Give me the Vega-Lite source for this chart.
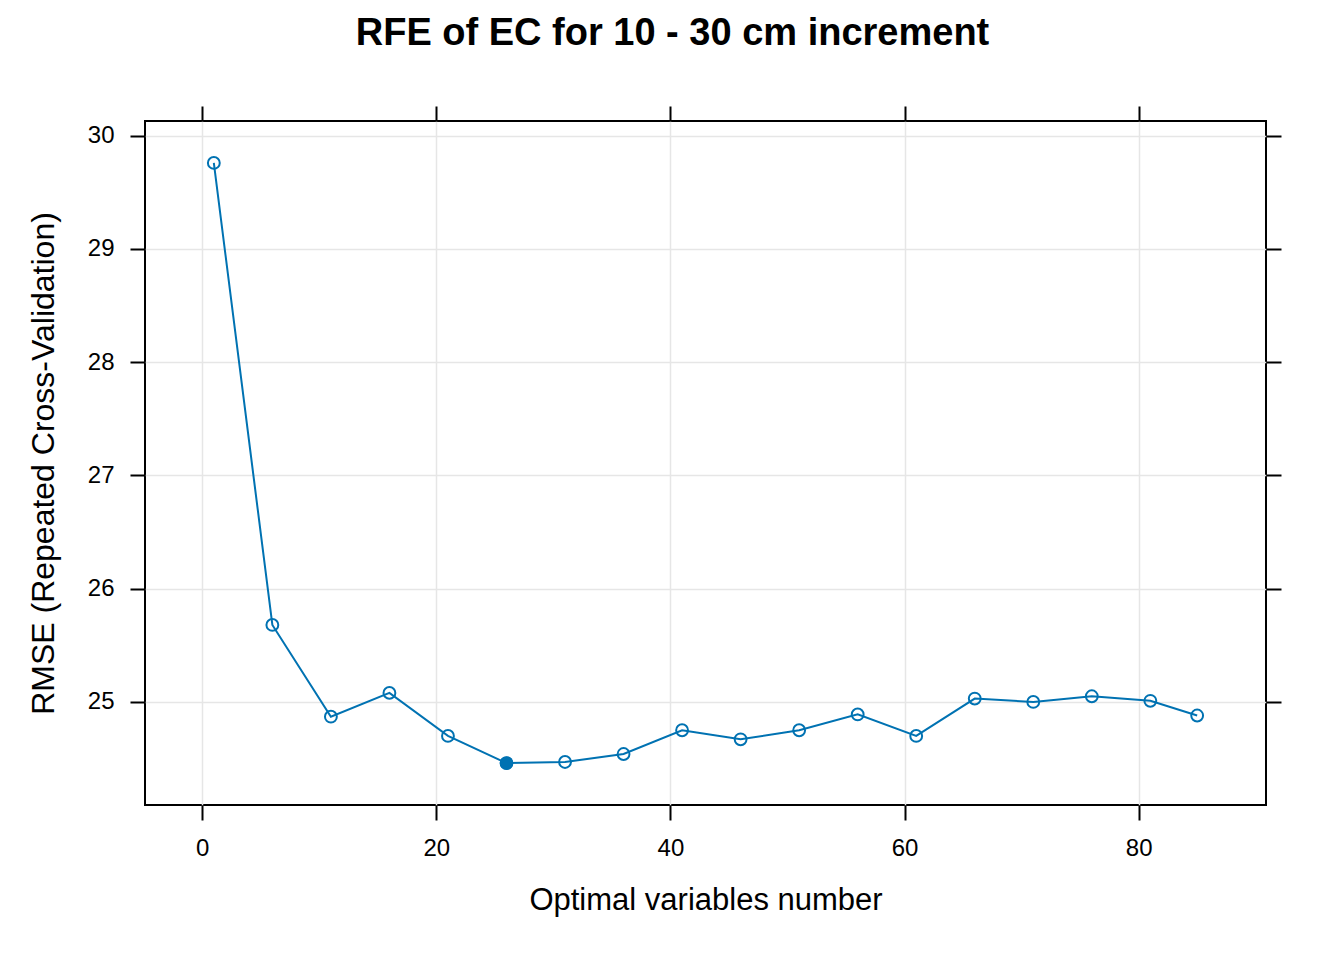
{
  "$schema": "https://vega.github.io/schema/vega-lite/v6.json",
  "autosize": {"type": "none"},
  "width": 1121,
  "height": 684,
  "padding": {"left": 145, "top": 121, "right": 78, "bottom": 155},
  "background": "white",
  "title": {
    "text": "RFE of EC for 10 - 30 cm increment",
    "anchor": "middle",
    "dx": -33,
    "fontSize": 38,
    "font": "Liberation Sans",
    "fontWeight": "bold",
    "color": "black",
    "offset": 52
  },
  "config": {
    "view": {"stroke": "black", "strokeWidth": 2},
    "axis": {
      "domain": false,
      "tickColor": "black",
      "tickWidth": 2,
      "tickSize": 15,
      "labelFont": "Liberation Sans",
      "labelFontSize": 24,
      "labelColor": "black",
      "labelPadding": 16,
      "titleFont": "Liberation Sans",
      "titleFontSize": 31,
      "titleFontWeight": "normal",
      "titleColor": "black",
      "gridColor": "#E6E6E6",
      "gridWidth": 1.5
    }
  },
  "data": {
    "values": [
      {"n": 1, "rmse": 29.76, "best": false},
      {"n": 6, "rmse": 25.68, "best": false},
      {"n": 11, "rmse": 24.87, "best": false},
      {"n": 16, "rmse": 25.08, "best": false},
      {"n": 21, "rmse": 24.70, "best": false},
      {"n": 26, "rmse": 24.46, "best": true},
      {"n": 31, "rmse": 24.47, "best": false},
      {"n": 36, "rmse": 24.54, "best": false},
      {"n": 41, "rmse": 24.75, "best": false},
      {"n": 46, "rmse": 24.67, "best": false},
      {"n": 51, "rmse": 24.75, "best": false},
      {"n": 56, "rmse": 24.89, "best": false},
      {"n": 61, "rmse": 24.70, "best": false},
      {"n": 66, "rmse": 25.03, "best": false},
      {"n": 71, "rmse": 25.00, "best": false},
      {"n": 76, "rmse": 25.05, "best": false},
      {"n": 81, "rmse": 25.01, "best": false},
      {"n": 85, "rmse": 24.88, "best": false}
    ]
  },
  "resolve": {"axis": {"x": "independent", "y": "independent"}},
  "layer": [
    {
      "mark": {"type": "line", "color": "#0072B2", "strokeWidth": 2},
      "encoding": {
        "x": {
          "field": "n", "type": "quantitative",
          "scale": {"domain": [-4.88, 90.88], "nice": false, "zero": false},
          "axis": {"orient": "bottom", "values": [0, 20, 40, 60, 80], "grid": true, "title": "Optimal variables number", "titlePadding": 25}
        },
        "y": {
          "field": "rmse", "type": "quantitative",
          "scale": {"domain": [24.09, 30.13], "nice": false, "zero": false},
          "axis": {"orient": "left", "values": [25, 26, 27, 28, 29, 30], "grid": true, "title": "RMSE (Repeated Cross-Validation)", "titlePadding": 27, "titleFontSize": 32}
        }
      }
    },
    {
      "mark": {"type": "point", "shape": "circle", "color": "#0072B2", "filled": false, "size": 140, "strokeWidth": 2, "opacity": 1},
      "encoding": {
        "x": {"field": "n", "type": "quantitative", "axis": null},
        "y": {"field": "rmse", "type": "quantitative", "axis": null}
      }
    },
    {
      "transform": [{"filter": "datum.best"}],
      "mark": {"type": "point", "shape": "circle", "color": "#0072B2", "filled": true, "size": 180, "opacity": 1},
      "encoding": {
        "x": {"field": "n", "type": "quantitative", "axis": {"orient": "top", "values": [0, 20, 40, 60, 80], "labels": false, "grid": false, "title": null}},
        "y": {"field": "rmse", "type": "quantitative", "axis": {"orient": "right", "values": [25, 26, 27, 28, 29, 30], "labels": false, "grid": false, "title": null}}
      }
    }
  ]
}
